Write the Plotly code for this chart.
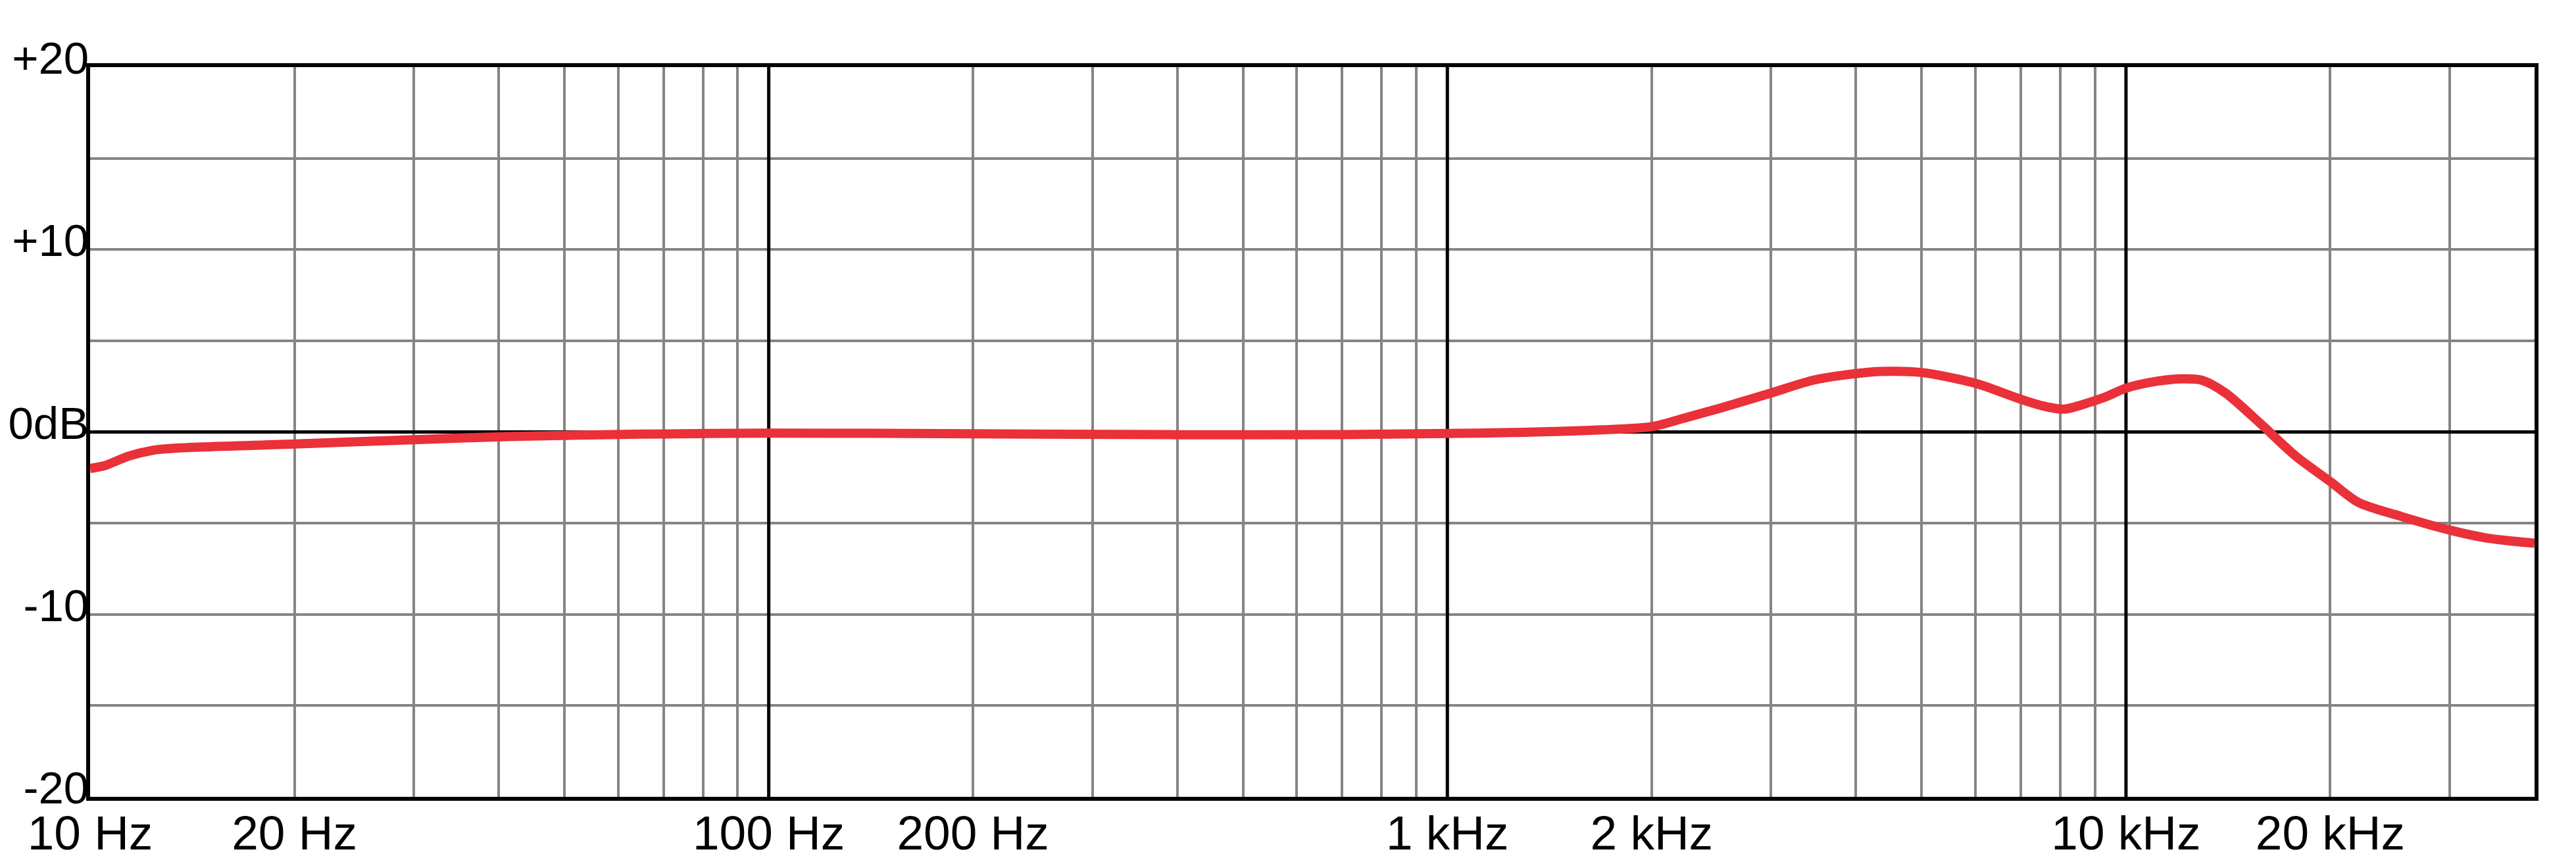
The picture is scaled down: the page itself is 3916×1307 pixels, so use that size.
import math
import plotly.graph_objects as go

# ---- data ----
FREQ_HZ = [10, 10.5, 11.4, 12.3, 13.2, 20, 30, 42, 65, 100, 200, 400, 700, 1000,
           1250, 1600, 2000, 2220, 2530, 3000, 3470, 4000, 4360, 5000, 6000, 7000,
           7500, 8100, 8800, 9300, 10000, 11100, 12050, 12900, 14000, 15800, 17800,
           20000, 22000, 25400, 30000, 34100, 40000]
RESPONSE_DB = [-2.0, -1.85, -1.32, -1.02, -0.9, -0.66, -0.42, -0.24, -0.12, -0.06,
               -0.1, -0.15, -0.14, -0.08, -0.03, 0.08, 0.29, 0.73, 1.32, 2.14, 2.85,
               3.2, 3.32, 3.26, 2.67, 1.79, 1.45, 1.25, 1.6, 1.9, 2.4, 2.78, 2.91,
               2.85, 2.15, 0.44, -1.33, -2.72, -3.86, -4.62, -5.38, -5.82, -6.1]

X_TICK_VALUES = [10, 20, 100, 200, 1000, 2000, 10000, 20000]
X_TICK_LABELS = ["10 Hz", "20 Hz", "100 Hz", "200 Hz", "1 kHz", "2 kHz", "10 kHz", "20 kHz"]
X_GRID_VALUES = [m * d for d in (10, 100, 1000, 10000) for m in range(1, 10) if m * d <= 40000]
DECADES = [100, 1000, 10000]

Y_GRID_VALUES = [-20, -15, -10, -5, 0, 5, 10, 15, 20]
Y_TICK_LABELS = {20: "+20", 10: "+10", 0: "0dB", -10: "-10", -20: "-20"}
Y_MIN, Y_MAX = -20, 20

X_MIN, X_MAX = 10, 40000

# ---- figure ----
x_text = [X_TICK_LABELS[X_TICK_VALUES.index(v)] if v in X_TICK_VALUES else "" for v in X_GRID_VALUES]
y_text = [Y_TICK_LABELS.get(v, "") for v in Y_GRID_VALUES]

fig = go.Figure()

# black decade grid lines (drawn below the response curve)
for d in DECADES:
    fig.add_trace(go.Scatter(
        x=[d, d], y=[Y_MIN, Y_MAX], mode="lines",
        line=dict(color="black", width=5), hoverinfo="skip", showlegend=False,
        cliponaxis=True,
    ))

fig.add_trace(go.Scatter(
    x=FREQ_HZ, y=RESPONSE_DB, mode="lines",
    line=dict(color="#EA3038", width=14, shape="spline", smoothing=0.8),
    hoverinfo="skip", showlegend=False,
))

xfont = dict(family="Liberation Sans, Arial, sans-serif", size=73, color="black")
yfont = dict(family="Liberation Sans, Arial, sans-serif", size=69, color="black")

# the page body has an 8px default margin; size the figure to fit inside the window
fig.update_layout(
    width=3908, height=1299,
    margin=dict(l=129, r=63, t=94, b=96),
    paper_bgcolor="white", plot_bgcolor="white",
    font=xfont,
    xaxis=dict(
        type="log", range=[math.log10(X_MIN), math.log10(X_MAX)],
        tickmode="array", tickvals=X_GRID_VALUES, ticktext=x_text,
        showgrid=True, gridcolor="#858585", gridwidth=4,
        showline=True, linecolor="black", linewidth=6, mirror=True,
        ticks="", ticklabelstandoff=-14, zeroline=False, tickfont=xfont,
        automargin=False,
    ),
    yaxis=dict(
        range=[Y_MIN, Y_MAX], tickmode="array", tickvals=Y_GRID_VALUES, ticktext=y_text,
        showgrid=True, gridcolor="#858585", gridwidth=4,
        zeroline=True, zerolinecolor="black", zerolinewidth=5,
        showline=True, linecolor="black", linewidth=6, mirror=True,
        ticks="", ticklabelstandoff=-18, ticklabelshift=-14, tickfont=yfont,
        automargin=False,
    ),
)

fig.write_html("out.html")
